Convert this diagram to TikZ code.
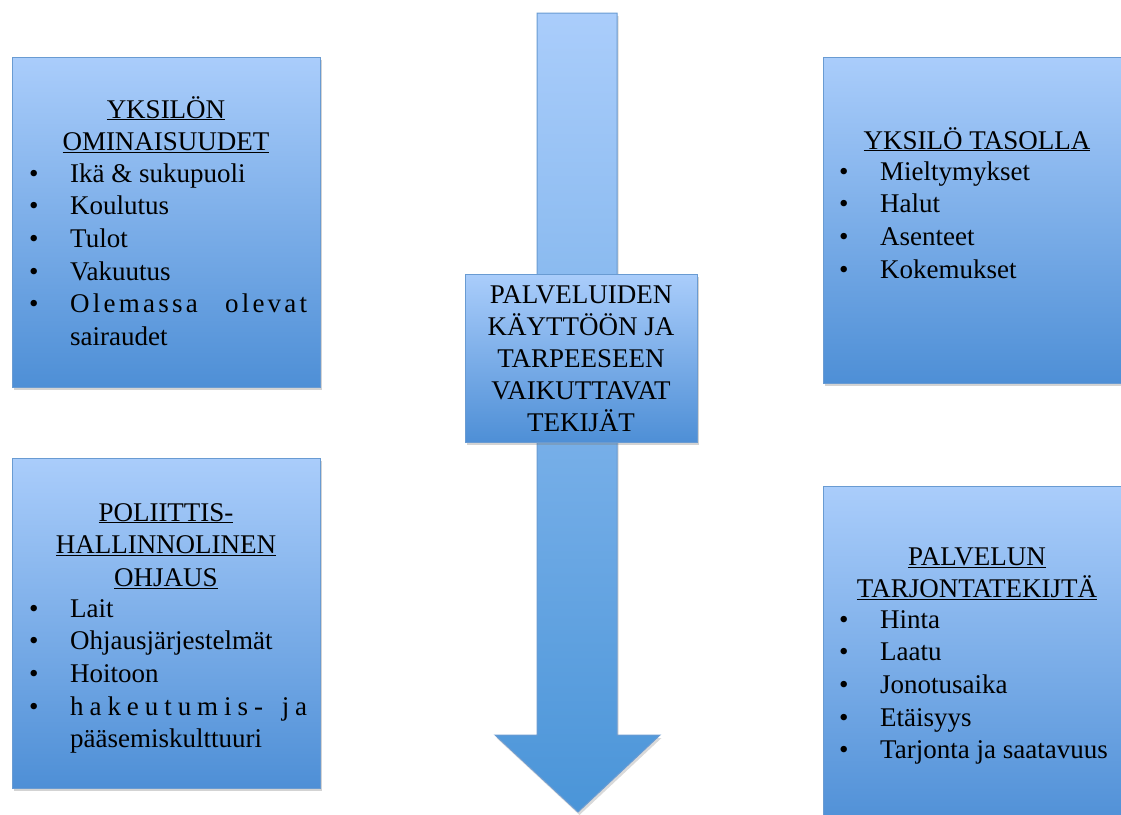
\documentclass[tikz,border=0pt]{standalone}
\usepackage{fontspec}
\setmainfont{Liberation Serif}
\usetikzlibrary{shadows}

\definecolor{boxtop}{RGB}{170,205,251}
\definecolor{boxbottom}{RGB}{78,143,214}
\definecolor{boxline}{RGB}{105,155,210}
\newcommand{\bul}{\makebox[41pt][l]{\textbullet}}

\tikzset{
  factor/.style={draw=boxline, line width=1pt, top color=boxtop, bottom color=boxbottom,
    drop shadow={shadow xshift=1.5pt, shadow yshift=-3pt, opacity=.35}, inner sep=0pt},
  txt/.style={font=\fontsize{27}{32.7}\selectfont, inner sep=0pt},
}

\begin{document}
\begin{tikzpicture}[x=1pt, y=-1pt]
    \useasboundingbox (0,0) rectangle (1121,814);
    \clip (0,0) rectangle (1121,814);

    % big arrow behind the middle box
    \draw[boxline, line width=1pt, top color=boxtop, bottom color=boxbottom!95!cyan,
      drop shadow={shadow xshift=1.5pt, shadow yshift=-3pt, opacity=.3}]
      (537,13) -- (617,13) -- (617,735) -- (660,735) -- (578,812)
      -- (495,735) -- (537,735) -- cycle;

    \node[factor, minimum width=232pt, minimum height=168pt] (center) at (581,358) {};
    \node[txt, anchor=base] (centertxt) at (581,303)
      {\parbox[t]{232pt}{\centering\baselineskip=32pt PALVELUIDEN\\ KÄYTTÖÖN JA\\ TARPEESEEN\\ VAIKUTTAVAT\\ TEKIJÄT}};

    % upper left
    \node[factor, minimum width=308pt, minimum height=330pt] (yksilon) at (166,222) {};
    \node[txt, anchor=base] (yksilontitle) at (166,118)
      {\parbox[t]{300pt}{\centering\underline{YKSILÖN}\\ \underline{OMINAISUUDET}}};
    \node[txt, anchor=base west] (yksilonlist) at (29,182)
      {\parbox[t]{290pt}{\bul Ikä \& sukupuoli\\ \bul Koulutus\\ \bul Tulot\\ \bul Vakuutus\\
       \bul\makebox[237pt][s]{\addfontfeature{LetterSpace=12}Olemassa olevat}\\ \hspace*{41pt}sairaudet}};

    % upper right
    \node[factor, minimum width=308pt, minimum height=326pt] (taso) at (977,220) {};
    \node[txt, anchor=base] (tasotitle) at (977,149) {\underline{YKSILÖ TASOLLA}};
    \node[txt, anchor=base west] (tasolist) at (839,180)
      {\parbox[t]{280pt}{\bul Mieltymykset\\ \bul Halut\\ \bul Asenteet\\ \bul Kokemukset}};

    % lower left
    \node[factor, minimum width=308pt, minimum height=330pt] (ohjaus) at (166,623) {};
    \node[txt, anchor=base] (ohjaustitle) at (166,521)
      {\parbox[t]{300pt}{\centering\underline{POLIITTIS-}\\ \underline{HALLINNOLINEN}\\ \underline{OHJAUS}}};
    \node[txt, anchor=base west] (ohjauslist) at (29,617)
      {\parbox[t]{290pt}{\bul Lait\\ \bul Ohjausjärjestelmät\\ \bul Hoitoon\\
       \bul\makebox[237pt][s]{\addfontfeature{LetterSpace=22}hakeutumis- ja}\\ \hspace*{41pt}pääsemiskulttuuri}};

    % lower right
    \node[factor, minimum width=308pt, minimum height=344pt] (tarjonta) at (977,658) {};
    \node[txt, anchor=base] (tarjontatitle) at (977,565)
      {\parbox[t]{300pt}{\centering\underline{PALVELUN}\\ \underline{TARJONTATEKIJTÄ}}};
    \node[txt, anchor=base west] (tarjontalist) at (839,628)
      {\parbox[t]{290pt}{\bul Hinta\\ \bul Laatu\\ \bul Jonotusaika\\ \bul Etäisyys\\ \bul Tarjonta ja saatavuus}};
\end{tikzpicture}
\end{document}
